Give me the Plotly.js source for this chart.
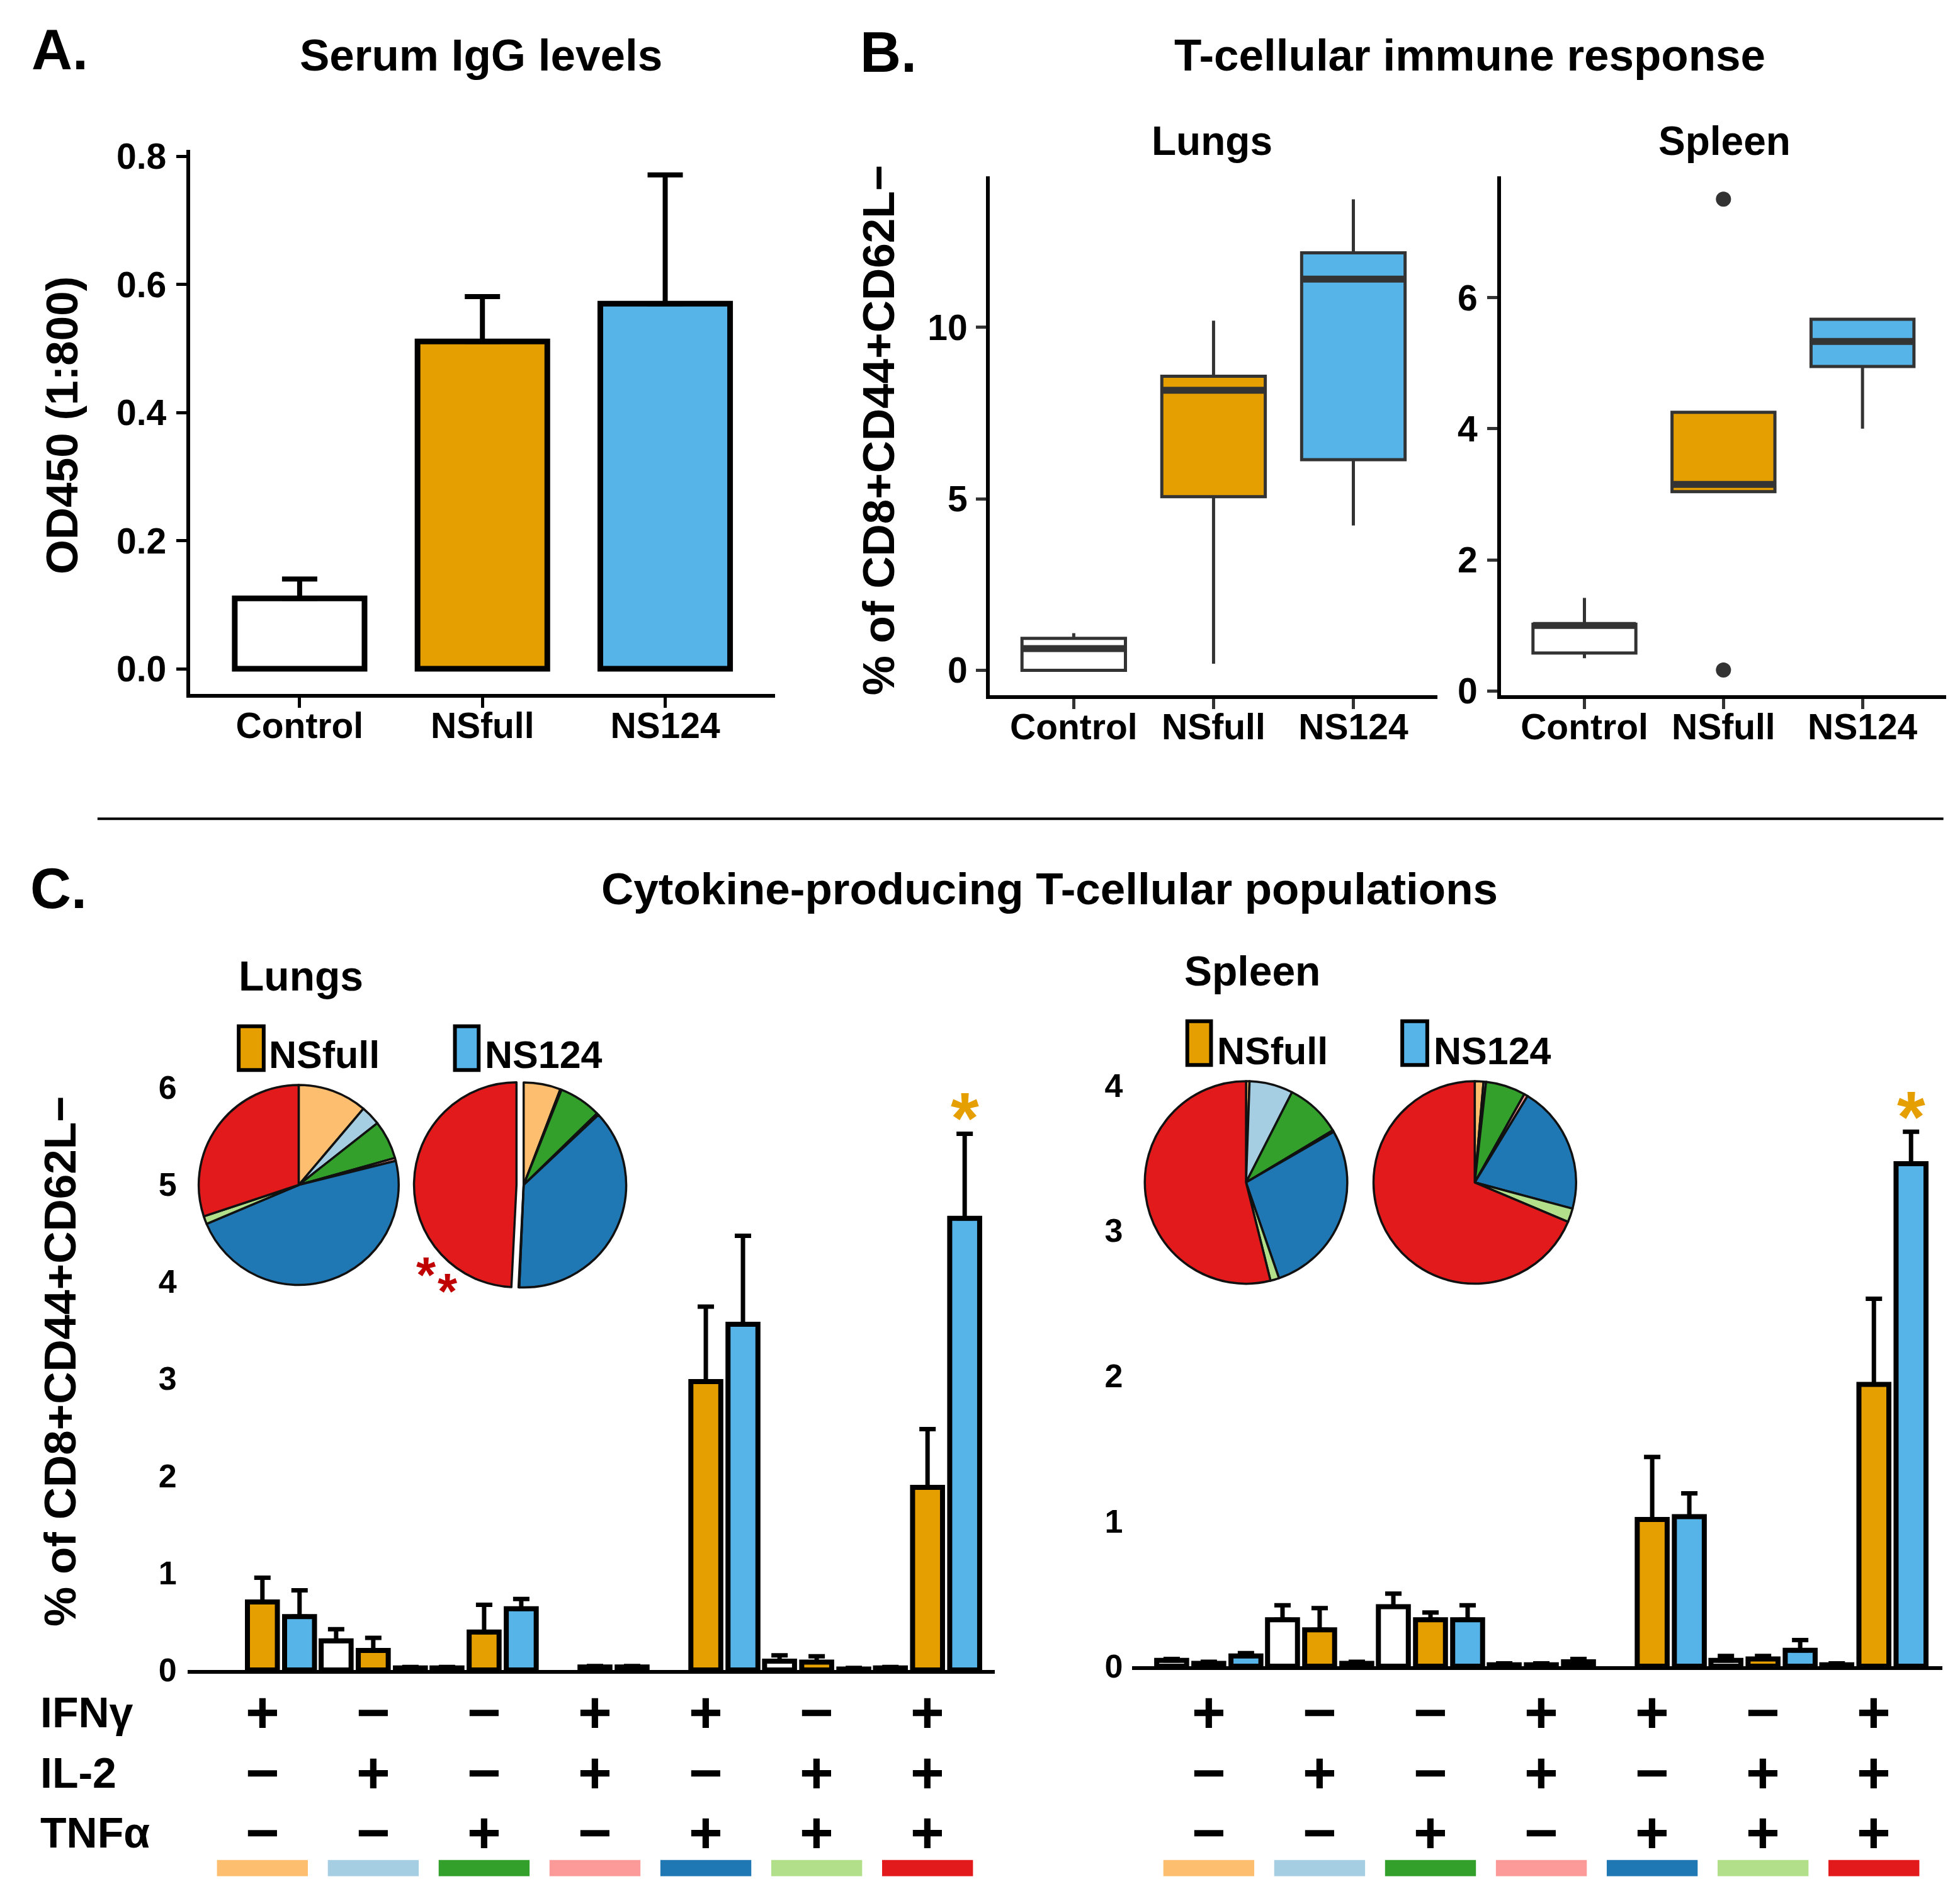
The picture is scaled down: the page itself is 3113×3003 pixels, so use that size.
<!DOCTYPE html>
<html>
<head>
<meta charset="utf-8">
<script src="https://cdn.plot.ly/plotly-3.0.1.min.js"></script>
<style>html,body{margin:0;padding:0;background:#fff}</style>
</head>
<body>
<div id="chart" style="width:3113px;height:3003px"></div>
<script>
// ================= DATA =================
const groups = ['Control', 'NSfull', 'NS124'];

// Panel A: serum IgG (OD450, 1:800), bar = mean, whisker = upper error
const iggMean = [0.110, 0.511, 0.570];
const iggUpper = [0.140, 0.581, 0.771];

// Panel B: boxplot statistics, % of CD8+CD44+CD62L-
const lungQ1 = [0.00, 5.06, 6.14];
const lungMedian = [0.63, 8.16, 11.40];
const lungQ3 = [0.93, 8.57, 12.17];
const lungLow = [0.00, 0.19, 4.22];
const lungHigh = [1.08, 10.19, 13.73];

const splQ1 = [0.58, 3.04, 4.95];
const splMedian = [1.00, 3.15, 5.33];
const splQ3 = [1.02, 4.25, 5.67];
const splLow = [0.50, 3.04, 4.00];
const splHigh = [1.42, 4.25, 5.67];
const splOutGroup = ['NSfull', 'NSfull'];
const splOutValue = [7.50, 0.32];

// Panel C: cytokine combinations
const ifng = ['+', '−', '−', '+', '+', '−', '+'];
const il2  = ['−', '+', '−', '+', '−', '+', '+'];
const tnfa = ['−', '−', '+', '−', '+', '+', '+'];
const rowLabels = ['IFNγ', 'IL-2', 'TNFα'];

const lungsControl    = [0.00, 0.30, 0.02, 0.00, 0.00, 0.09, 0.02];
const lungsControlErr = [0.00, 0.42, 0.03, 0.00, 0.00, 0.15, 0.03];
const lungsNSfull     = [0.70, 0.20, 0.39, 0.03, 2.97, 0.08, 1.88];
const lungsNSfullErr  = [0.95, 0.33, 0.67, 0.04, 3.74, 0.14, 2.48];
const lungsNS124      = [0.55, 0.02, 0.63, 0.03, 3.56, 0.01, 4.65];
const lungsNS124Err   = [0.82, 0.03, 0.73, 0.04, 4.47, 0.02, 5.52];

const spleenControl    = [0.04, 0.32, 0.41, 0.01, 0.00, 0.04, 0.01];
const spleenControlErr = [0.05, 0.42, 0.50, 0.02, 0.00, 0.07, 0.02];
const spleenNSfull     = [0.02, 0.25, 0.32, 0.01, 1.01, 0.05, 1.94];
const spleenNSfullErr  = [0.03, 0.40, 0.37, 0.02, 1.44, 0.07, 2.53];
const spleenNS124      = [0.07, 0.02, 0.32, 0.03, 1.03, 0.11, 3.46];
const spleenNS124Err   = [0.09, 0.03, 0.42, 0.05, 1.19, 0.18, 3.68];

// ================= STYLE / LAYOUT HELPERS =================
const groupColors = ['#FFFFFF', '#E69F00', '#56B4E9'];
const comboColors = ['#FDBF6F', '#A6CEE3', '#33A02C', '#FB9A99', '#1F78B4', '#B2DF8A', '#E31A1C'];
const FONT = '"Liberation Sans", Arial, Helvetica, sans-serif';
const W = 3113 / 1.985, H = 3003 / 1.985;   // reference design units
const px = d => d / W;
const py = d => 1 - d / H;
const F = (size, color) => ({family: FONT, size: size, color: color || '#000', weight: 'bold'});

const traces = [];

// ----- Panel A -----
traces.push({
  type: 'bar', xaxis: 'x', yaxis: 'y',
  x: groups.map((g, i) => i), y: iggMean, width: 0.71,
  marker: {color: groupColors, line: {color: '#000', width: 9}},
  error_y: {type: 'data', symmetric: false,
    array: iggUpper.map((u, i) => u - iggMean[i]),
    arrayminus: iggMean.map(() => 0),
    color: '#000', thickness: 8, width: 28},
  hoverinfo: 'skip'
});

// ----- Panel B -----
function addBoxes(q1, med, q3, lo, hi, xa, ya) {
  groups.forEach((g, i) => {
    traces.push({
      type: 'box', xaxis: xa, yaxis: ya,
      x: [i], q1: [q1[i]], median: [med[i]], q3: [q3[i]],
      lowerfence: [lo[i]], upperfence: [hi[i]],
      width: 0.74, whiskerwidth: 0, boxpoints: false,
      fillcolor: groupColors[i], line: {color: '#333333', width: 5},
      hoverinfo: 'skip'
    });
  });
  const mx = [], my = [];
  med.forEach((m, i) => { mx.push(i - 0.37, i + 0.37, null); my.push(m, m, null); });
  traces.push({type: 'scatter', mode: 'lines', xaxis: xa, yaxis: ya, x: mx, y: my,
    line: {color: '#333333', width: 11}, hoverinfo: 'skip'});
}
addBoxes(lungQ1, lungMedian, lungQ3, lungLow, lungHigh, 'x2', 'y2');
addBoxes(splQ1, splMedian, splQ3, splLow, splHigh, 'x3', 'y3');
traces.push({type: 'scatter', mode: 'markers', xaxis: 'x3', yaxis: 'y3',
  x: splOutGroup.map(g => groups.indexOf(g)), y: splOutValue,
  marker: {color: '#333333', size: 24}, hoverinfo: 'skip'});

// ----- Panel C -----
const OFF = 0.335, BW = 0.27;
function addCBars(series, xa, ya) {
  series.forEach(([vals, errs, color, off]) => {
    traces.push({
      type: 'bar', xaxis: xa, yaxis: ya,
      x: vals.map((v, i) => i + off), y: vals.map(v => (v > 0 ? v : null)), width: BW,
      marker: {color: color, line: {color: '#000', width: 8}},
      error_y: {type: 'data', symmetric: false,
        array: errs.map((e, i) => Math.max(0, e - vals[i])),
        arrayminus: vals.map(() => 0),
        color: '#000', thickness: 7, width: 13},
      hoverinfo: 'skip'
    });
  });
}
addCBars([[lungsControl, lungsControlErr, groupColors[0], -OFF],
          [lungsNSfull, lungsNSfullErr, groupColors[1], 0],
          [lungsNS124, lungsNS124Err, groupColors[2], OFF]], 'x4', 'y4');
addCBars([[spleenControl, spleenControlErr, groupColors[0], -OFF],
          [spleenNSfull, spleenNSfullErr, groupColors[1], 0],
          [spleenNS124, spleenNS124Err, groupColors[2], OFF]], 'x5', 'y5');

// pies: composition of each vaccine group's response
function addPie(vals, cx, cy, r, pullIdx) {
  const pull = vals.map((v, i) => (i === pullIdx ? 0.07 : 0));
  const R = pullIdx >= 0 ? r * 1.07 : r;
  traces.push({
    type: 'pie', values: vals, sort: false, direction: 'clockwise', rotation: 0,
    marker: {colors: comboColors, line: {color: '#111', width: 3.5}},
    pull: pull, textinfo: 'none', hoverinfo: 'skip', showlegend: false,
    domain: {x: [px(cx - R), px(cx + R)], y: [py(cy + R), py(cy - R)]}
  });
}
addPie(lungsNSfull, 239, 948, 80, -1);
addPie(lungsNS124, 419, 948, 82, 6);
addPie(spleenNSfull, 997, 946, 81, -1);
addPie(spleenNS124, 1180, 946, 81, -1);

// ================= AXES =================
const axBase = {showgrid: false, zeroline: false, fixedrange: true, color: '#000'};
const layout = {
  width: 3113, height: 3003,
  margin: {l: 0, r: 0, t: 0, b: 0, pad: 0},
  paper_bgcolor: '#FFFFFF', plot_bgcolor: 'rgba(0,0,0,0)',
  showlegend: false, barmode: 'overlay',
  font: F(50),
  xaxis: Object.assign({}, axBase, {domain: [px(152), px(620)], anchor: 'y', range: [-0.6, 2.6],
    tickvals: [0, 1, 2], ticktext: groups, showline: true, linewidth: 6, linecolor: '#000',
    ticks: 'outside', ticklen: 16, tickwidth: 5, tickcolor: '#000', tickfont: F(57), ticklabelstandoff: -20}),
  yaxis: Object.assign({}, axBase, {domain: [py(555), py(120)], anchor: 'x', range: [-0.039, 0.81],
    tickvals: [0, 0.2, 0.4, 0.6, 0.8], ticktext: ['0.0', '0.2', '0.4', '0.6', '0.8'],
    showline: true, linewidth: 6, linecolor: '#000',
    ticks: 'outside', ticklen: 16, tickwidth: 5, tickcolor: '#000', tickfont: F(57), ticklabelstandoff: 4}),
  xaxis2: Object.assign({}, axBase, {domain: [px(792), px(1150)], anchor: 'y2', range: [-0.6, 2.6],
    tickvals: [0, 1, 2], ticktext: groups, showline: true, linewidth: 6, linecolor: '#000',
    ticks: 'outside', ticklen: 16, tickwidth: 5, tickcolor: '#333', tickfont: F(57), ticklabelstandoff: -20}),
  yaxis2: Object.assign({}, axBase, {domain: [py(556), py(141)], anchor: 'x2', range: [-0.72, 14.4],
    tickvals: [0, 5, 10], showline: true, linewidth: 6, linecolor: '#000',
    ticks: 'outside', ticklen: 16, tickwidth: 5, tickcolor: '#333', tickfont: F(57), ticklabelstandoff: 2}),
  xaxis3: Object.assign({}, axBase, {domain: [px(1201), px(1557)], anchor: 'y3', range: [-0.6, 2.6],
    tickvals: [0, 1, 2], ticktext: groups, showline: true, linewidth: 6, linecolor: '#000',
    ticks: 'outside', ticklen: 16, tickwidth: 5, tickcolor: '#333', tickfont: F(57), ticklabelstandoff: -20}),
  yaxis3: Object.assign({}, axBase, {domain: [py(556), py(141)], anchor: 'x3', range: [-0.06, 7.85],
    tickvals: [0, 2, 4, 6], showline: true, linewidth: 6, linecolor: '#000',
    ticks: 'outside', ticklen: 16, tickwidth: 5, tickcolor: '#333', tickfont: F(57), ticklabelstandoff: 4}),
  xaxis4: Object.assign({}, axBase, {domain: [px(150), px(796)], anchor: 'y4', range: [-0.676, 6.607],
    showline: true, linewidth: 6, linecolor: '#000', ticks: '', showticklabels: false}),
  yaxis4: Object.assign({}, axBase, {domain: [py(1336), py(1336 - 6.3 * 77.7)], anchor: 'x4', range: [0, 6.3],
    tickvals: [0, 1, 2, 3, 4, 5, 6], showline: false, ticks: '', tickfont: F(52), ticklabelstandoff: 16}),
  xaxis5: Object.assign({}, axBase, {domain: [px(906), px(1554)], anchor: 'y5', range: [-0.69, 6.616],
    showline: true, linewidth: 6, linecolor: '#000', ticks: '', showticklabels: false}),
  yaxis5: Object.assign({}, axBase, {domain: [py(1333), py(1333 - 4.2 * 116.2)], anchor: 'x5', range: [0, 4.2],
    tickvals: [0, 1, 2, 3, 4], showline: false, ticks: '', tickfont: F(52), ticklabelstandoff: 14})
};

// ================= ANNOTATIONS & SHAPES =================
const ann = [];
const shapes = [];
function txt(text, x, y, size, opts) {
  ann.push(Object.assign({text: text, x: x, y: y, xref: 'paper', yref: 'paper', showarrow: false,
    xanchor: 'center', yanchor: 'middle', font: F(size)}, opts || {}));
}
// panel letters and titles
txt('A.', px(48), py(40), 90);
txt('Serum IgG levels', px(385), py(44), 71);
txt('OD450 (1:800)', px(50), py(340), 71, {textangle: -90});
txt('B.', px(711), py(42), 90);
txt('T-cellular immune response', px(1176), py(44), 71);
txt('Lungs', px(970), py(113), 64);
txt('Spleen', px(1380), py(113), 64);
txt('% of CD8+CD44+CD62L−', px(703), py(344), 71, {textangle: -90});
txt('C.', px(47), py(711), 90);
txt('Cytokine-producing T-cellular populations', px(840), py(711), 71);
txt('% of CD8+CD44+CD62L−', px(48), py(1089), 71, {textangle: -90});
txt('Lungs', px(241), py(781), 66);
txt('Spleen', px(1002), py(777), 66);

// group legends in panel C
function legendKey(x0, x1, y0, y1, color, label, tx, ty) {
  shapes.push({type: 'rect', xref: 'paper', yref: 'paper', x0: px(x0), x1: px(x1), y0: py(y1), y1: py(y0),
    fillcolor: color, line: {color: '#000', width: 6}});
  txt(label, px(tx), py(ty), 61, {xanchor: 'left'});
}
legendKey(191, 211, 821, 856, groupColors[1], groups[1], 214, 844);
legendKey(364, 383, 821, 856, groupColors[2], groups[2], 387, 844);
legendKey(950, 969, 817, 852, groupColors[1], groups[1], 973, 841);
legendKey(1122, 1142, 817, 852, groupColors[2], groups[2], 1146, 841);

// significance marks
txt('*', px(341), py(1020), 80, {font: F(80, '#C00000')});
txt('*', px(358), py(1033), 80, {font: F(80, '#C00000')});
ann.push({text: '*', xref: 'x4', yref: 'y4', x: 6 + OFF, y: lungsNS124Err[6], yshift: -40,
  showarrow: false, xanchor: 'center', yanchor: 'bottom', font: F(115, '#E69F00')});
ann.push({text: '*', xref: 'x5', yref: 'y5', x: 6 + OFF, y: spleenNS124Err[6], yshift: -42,
  showarrow: false, xanchor: 'center', yanchor: 'bottom', font: F(115, '#E69F00')});

// cytokine table under the bars
const rowsY = [1370, 1418, 1466];
const signRows = [ifng, il2, tnfa];
rowLabels.forEach((lab, r) => txt(lab, px(31), py(rowsY[r]), 68, {xanchor: 'left'}));
['x4', 'x5'].forEach(xa => {
  signRows.forEach((row, r) => {
    row.forEach((s, g) => {
      ann.push({text: s, xref: xa, yref: 'paper', x: g, y: py(rowsY[r]), showarrow: false,
        xanchor: 'center', yanchor: 'middle', font: F(92)});
    });
  });
  comboColors.forEach((c, g) => {
    shapes.push({type: 'rect', xref: xa, yref: 'paper', x0: g - 0.41, x1: g + 0.41,
      y0: py(1501), y1: py(1488), fillcolor: c, line: {width: 0}});
  });
});

// separator between top panels and panel C
shapes.push({type: 'line', xref: 'paper', yref: 'paper', x0: px(78), x1: px(1555), y0: py(655), y1: py(655),
  line: {color: '#000', width: 4}});

layout.annotations = ann;
layout.shapes = shapes;

Plotly.newPlot('chart', traces, layout, {displayModeBar: false, staticPlot: true});
</script>
</body>
</html>
